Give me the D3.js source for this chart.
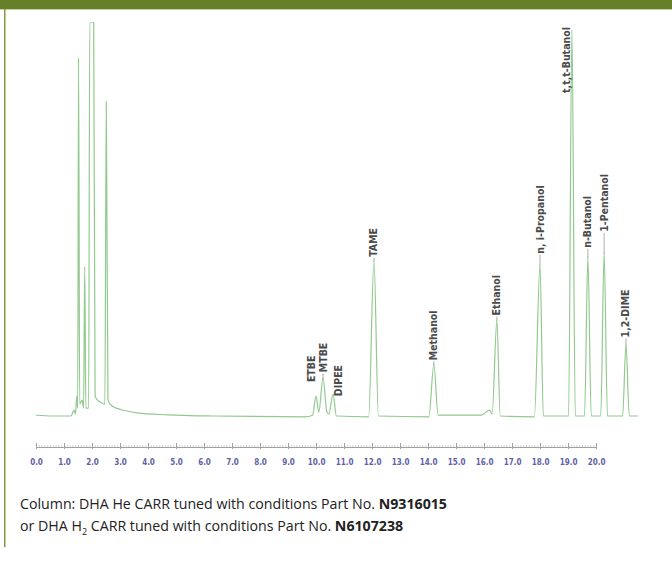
<!DOCTYPE html>
<html>
<head>
<meta charset="utf-8">
<script src="https://cdn.jsdelivr.net/npm/d3@7"></script>
<style>
  html, body { margin: 0; padding: 0; background: #fff; }
  svg { display: block; }
</style>
</head>
<body>
<svg id="chart" width="672" height="561"></svg>
<script>
// ---- data ----
// retention-time axis tick labels (min)
const tickValues = d3.range(0, 21, 1);
// chromatogram trace: retention time (min)
const traceTime = [0.0, 0.6, 1.25, 1.36, 1.41, 1.46, 1.49, 1.52, 1.56, 1.65, 1.70, 1.74, 1.78, 1.88, 1.92, 2.06, 2.11, 2.20, 2.30, 2.46, 2.51, 2.57, 2.72, 3.1, 3.6, 4.7, 6.3, 9.6, 9.88, 10.0, 10.1, 10.25, 10.39, 10.46, 10.61, 10.73, 11.88, 12.07, 12.23, 14.03, 14.21, 14.36, 15.9, 16.2, 16.29, 16.46, 16.58, 17.8, 18.0, 18.12, 19.02, 19.14, 19.26, 19.59, 19.71, 19.83, 20.17, 20.29, 20.41, 20.95, 21.07, 21.19, 21.5];
// detector response (% of full scale)
const traceValue = [1.2, 1.0, 1.0, 2.5, 1.5, 6, 3, 91, 4, 5, 3, 38.5, 3, 3, 100, 100, 6, 5, 4.5, 4, 80, 5, 3.5, 2.5, 1.8, 1.3, 1.0, 0.8, 1.2, 6, 2, 10.5, 2, 1.5, 6.5, 1.0, 0.8, 40, 1.0, 0.8, 14, 1.2, 1.2, 2.5, 1.5, 25, 1.0, 0.8, 39, 1.0, 1.0, 98, 1.0, 1.0, 41, 1.0, 1.0, 42, 1.0, 1.0, 19, 1.0, 1.0];
// labelled peaks
const peakNames = ["ETBE", "MTBE", "DIPEE", "TAME", "Methanol", "Ethanol", "n, i-Propanol", "t,t,t-Butanol", "n-Butanol", "1-Pentanol", "1,2-DIME"];
const peakTimes = [10.0, 10.25, 10.61, 12.07, 14.21, 16.46, 18.0, 19.14, 19.71, 20.29, 21.07];
const peakHeights = [6, 10.5, 6.5, 40, 14, 25, 39, 98, 41, 42, 19];
// caption
const captionLine1 = ["Column: DHA He CARR tuned with conditions Part No. ", "N9316015"];
const captionLine2 = ["or DHA H", "2", " CARR tuned with conditions Part No. ", "N6107238"];

// ---- layout ----
const svg = d3.select("#chart");
const W = 672, H = 561;

// frame: green header bar and left rule
svg.append("rect").attr("x", 0).attr("y", 0).attr("width", W).attr("height", 9).attr("fill", "#667f29");
svg.append("rect").attr("x", 0).attr("y", 9).attr("width", W).attr("height", 1).attr("fill", "#c3d3a6");
svg.append("rect").attr("x", 4).attr("y", 9).attr("width", 1.5).attr("height", 538).attr("fill", "#7d9a45");

const x = d3.scaleLinear().domain([0, 20]).range([36, 596]);
const y = d3.scaleLinear().domain([0, 100]).range([420, 22]);

// axis ruler
const axisY = 447;
const minor = d3.range(0, 201, 1).map(d => d / 10);
svg.append("g")
  .attr("transform", `translate(0,${axisY})`)
  .call(d3.axisBottom(x).tickValues(minor).tickSize(-2).tickFormat(""))
  .call(g => g.select(".domain").attr("stroke", "#a0a0a0").attr("stroke-width", 1))
  .call(g => g.selectAll(".tick line").attr("stroke", "#b5b5b5").attr("stroke-width", 0.6));

const xAxis = svg.append("g")
  .attr("transform", `translate(0,${axisY})`)
  .call(d3.axisBottom(x).tickValues(tickValues).tickSize(3).tickPadding(9).tickFormat(d3.format(".1f")));
xAxis.select(".domain").remove();
xAxis.selectAll(".tick line").attr("stroke", "#a0a0a0").attr("y1", -4).attr("y2", 2);
xAxis.selectAll(".tick text")
  .attr("fill", "#6262a6")
  .attr("font-family", "'Liberation Sans Narrow', 'DejaVu Sans Condensed', sans-serif")
  .attr("font-weight", "bold")
  .attr("font-size", 8);

// trace
const pts = traceTime.map((t, i) => [t, traceValue[i]]);
svg.append("clipPath").attr("id", "clip")
  .append("rect").attr("x", 20).attr("y", 22).attr("width", 640).attr("height", 420);
svg.append("path")
  .datum(pts)
  .attr("clip-path", "url(#clip)")
  .attr("fill", "none")
  .attr("stroke", "#92c98e")
  .attr("stroke-width", 1.2)
  .attr("stroke-linejoin", "round")
  .attr("d", d3.line().x(d => x(d[0])).y(d => y(d[1])).curve(d3.curveMonotoneX));

// peak labels (rotated, with leader lines)
const labelDx  = [-5, 0, 5, 0, 0, 0, 0, -5, 0, 0, 0];
const labelGap = [13, 5, -3, 3, 3, 4, 10, -64, 8, 20, 6];
const lab = svg.append("g");
peakNames.forEach((name, i) => {
  const px = x(peakTimes[i]) + labelDx[i];
  const top = y(peakHeights[i]);
  const start = top - labelGap[i];
  if (labelGap[i] > 0 && labelDx[i] === 0) {
    lab.append("line")
      .attr("x1", px).attr("x2", px)
      .attr("y1", top + 1).attr("y2", start)
      .attr("stroke", "#8a8a8a").attr("stroke-width", 0.7);
  }
  lab.append("text")
    .attr("transform", `translate(${px + 3.5},${start - 1}) rotate(-90)`)
    .attr("font-family", "'Liberation Sans Narrow', 'DejaVu Sans Condensed', sans-serif")
    .attr("font-weight", "bold")
    .attr("font-size", 10.5)
    .attr("fill", "#4a4a4a")
    .text(name);
});

// caption
const capFont = "'Open Sans', sans-serif";
const c1 = svg.append("text").attr("x", 20).attr("y", 509)
  .attr("font-family", capFont).attr("font-size", 14.2).attr("fill", "#222");
c1.append("tspan").text(captionLine1[0]);
c1.append("tspan").attr("font-weight", "bold").text(captionLine1[1]);
const c2 = svg.append("text").attr("x", 20).attr("y", 531)
  .attr("font-family", capFont).attr("font-size", 14.2).attr("fill", "#222");
c2.append("tspan").text(captionLine2[0]);
c2.append("tspan").attr("font-size", 9).attr("dy", 4).text(captionLine2[1]);
c2.append("tspan").attr("dy", -4).text(captionLine2[2]);
c2.append("tspan").attr("font-weight", "bold").text(captionLine2[3]);
</script>
</body>
</html>
